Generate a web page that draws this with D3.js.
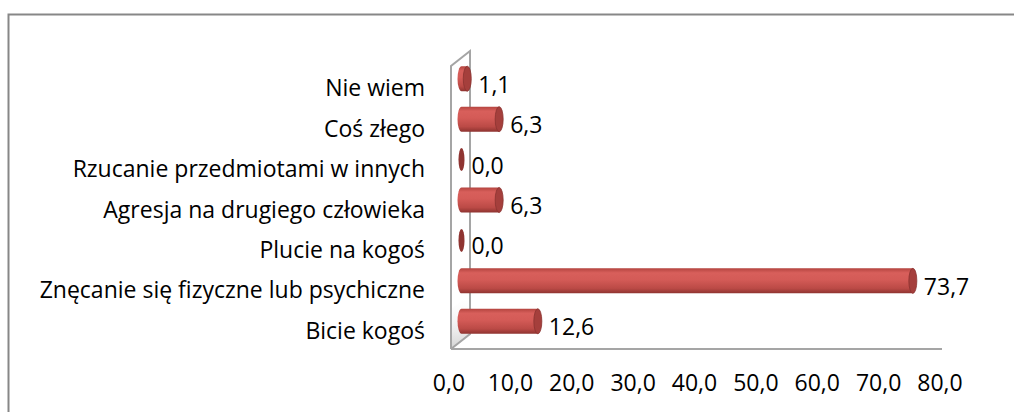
<!DOCTYPE html>
<html>
<head>
<meta charset="utf-8">
<script src="https://cdn.jsdelivr.net/npm/d3@7"></script>
<style>
  body { margin: 0; background: #fff; }
  text { font-family: "Open Sans", sans-serif; fill: #000; }
</style>
</head>
<body>
<div id="chart"></div>
<script>
// categories top -> bottom, as they appear
var categories = [
  "Nie wiem",
  "Coś złego",
  "Rzucanie przedmiotami w innych",
  "Agresja na drugiego człowieka",
  "Plucie na kogoś",
  "Znęcanie się fizyczne lub psychiczne",
  "Bicie kogoś"
];
var values = [1.1, 6.3, 0.0, 6.3, 0.0, 73.7, 12.6];
var xTicks = [0, 10, 20, 30, 40, 50, 60, 70, 80];

var svgWidth = 1014;
var svgHeight = 412;
var fontSize = "23px";

var svg = d3.select("#chart")
  .append("svg")
  .attr("width", svgWidth)
  .attr("height", svgHeight);

// chart area border (runs off the right / bottom edge)
svg.append("rect")
  .attr("x", 8.5)
  .attr("y", 14.5)
  .attr("width", 1100)
  .attr("height", 500)
  .attr("fill", "none")
  .attr("stroke", "#878787")
  .attr("stroke-width", 2);

// front plane scales
var xScale = d3.scaleLinear().domain([0, 80]).range([451, 942]);
var yScale = d3.scaleBand().domain(categories).range([66, 349]);

// 3d depth offset (back wall)
var depthX = 19, depthY = -15;
var barDX = depthX / 2, barDY = depthY / 2;

var fmt = function(v) { return d3.format(".1f")(v).replace(".", ","); };

// gradient for cylinder body
var defs = svg.append("defs");
var grad = defs.append("linearGradient")
  .attr("id", "cyl")
  .attr("x1", 0).attr("y1", 0).attr("x2", 0).attr("y2", 1);
grad.append("stop").attr("offset", "0%").attr("stop-color", "#b4443f");
grad.append("stop").attr("offset", "18%").attr("stop-color", "#d85f5b");
grad.append("stop").attr("offset", "45%").attr("stop-color", "#d45b57");
grad.append("stop").attr("offset", "80%").attr("stop-color", "#bb4a46");
grad.append("stop").attr("offset", "100%").attr("stop-color", "#8e3330");

var wallShade = defs.append("linearGradient")
  .attr("id", "wallShade")
  .attr("x1", 0).attr("y1", 0).attr("x2", 0).attr("y2", 1);
wallShade.append("stop").attr("offset", "0%").attr("stop-color", "#fff").attr("stop-opacity", 0);
wallShade.append("stop").attr("offset", "100%").attr("stop-color", "#c8c8c8").attr("stop-opacity", 0.8);

var x0 = xScale(0);
var yTop = yScale.range()[0];
var yBot = yScale.range()[1];

// left wall
svg.append("path")
  .attr("d", `M${x0},${yBot - 40} L${x0 + depthX},${yBot - 40 + depthY} L${x0 + depthX},${yBot + depthY} L${x0},${yBot} Z`)
  .attr("fill", "url(#wallShade)")
  .attr("stroke", "none");

var wall = svg.append("g")
  .attr("fill", "none")
  .attr("stroke", "#a5a5a5")
  .attr("stroke-width", 2);

wall.append("path")
  .attr("d", `M${x0},${yBot} L${x0},${yTop} L${x0 + depthX},${yTop + depthY} L${x0 + depthX},${yBot + depthY} L${x0},${yBot}`);

// floor front edge
wall.append("line")
  .attr("x1", x0).attr("x2", xScale(80))
  .attr("y1", yBot).attr("y2", yBot);

// bars (cylinders)
var bh = 25;
var capRx = 4;

var bars = svg.selectAll(".bar")
  .data(values)
  .enter()
  .append("g")
  .attr("class", "bar");

bars.each(function(v, i) {
  var g = d3.select(this);
  var cy = yScale(categories[i]) + yScale.bandwidth() / 2 + barDY;
  var xs = xScale(0) + barDX + 1;
  var xe = xScale(v) + barDX;
  var r = bh / 2;
  if (v <= 0) {
    g.append("ellipse")
      .attr("cx", xs).attr("cy", cy)
      .attr("rx", 3).attr("ry", r - 1)
      .attr("fill", "#8f3431");
    return;
  }
  g.append("path")
    .attr("d", `M${xe},${cy - r} L${xs},${cy - r} A${capRx},${r} 0 0 0 ${xs},${cy + r} L${xe},${cy + r} Z`)
    .attr("fill", "url(#cyl)");
  g.append("ellipse")
    .attr("cx", xe).attr("cy", cy)
    .attr("rx", capRx).attr("ry", r)
    .attr("fill", "#a53f3c")
    .attr("stroke", "#8a3230")
    .attr("stroke-width", 0.8);
});

// value labels
svg.selectAll(".val")
  .data(values)
  .enter()
  .append("text")
  .attr("class", "val")
  .attr("x", d => xScale(d) + barDX + 11)
  .attr("y", (d, i) => yScale(categories[i]) + yScale.bandwidth() / 2 + barDY + 5)
  .attr("dominant-baseline", "central")
  .attr("font-size", fontSize)
  .text(d => fmt(d));

// category labels
svg.selectAll(".cat")
  .data(categories)
  .enter()
  .append("text")
  .attr("class", "cat")
  .attr("x", 425)
  .attr("y", d => yScale(d) + yScale.bandwidth() / 2 + 1)
  .attr("text-anchor", "end")
  .attr("dominant-baseline", "central")
  .attr("font-size", fontSize)
  .text(d => d);

// x tick labels
svg.selectAll(".tick-label")
  .data(xTicks)
  .enter()
  .append("text")
  .attr("class", "tick-label")
  .attr("x", d => xScale(d) - 2)
  .attr("y", 382)
  .attr("text-anchor", "middle")
  .attr("dominant-baseline", "central")
  .attr("font-size", fontSize)
  .text(d => fmt(d));
</script>
</body>
</html>
